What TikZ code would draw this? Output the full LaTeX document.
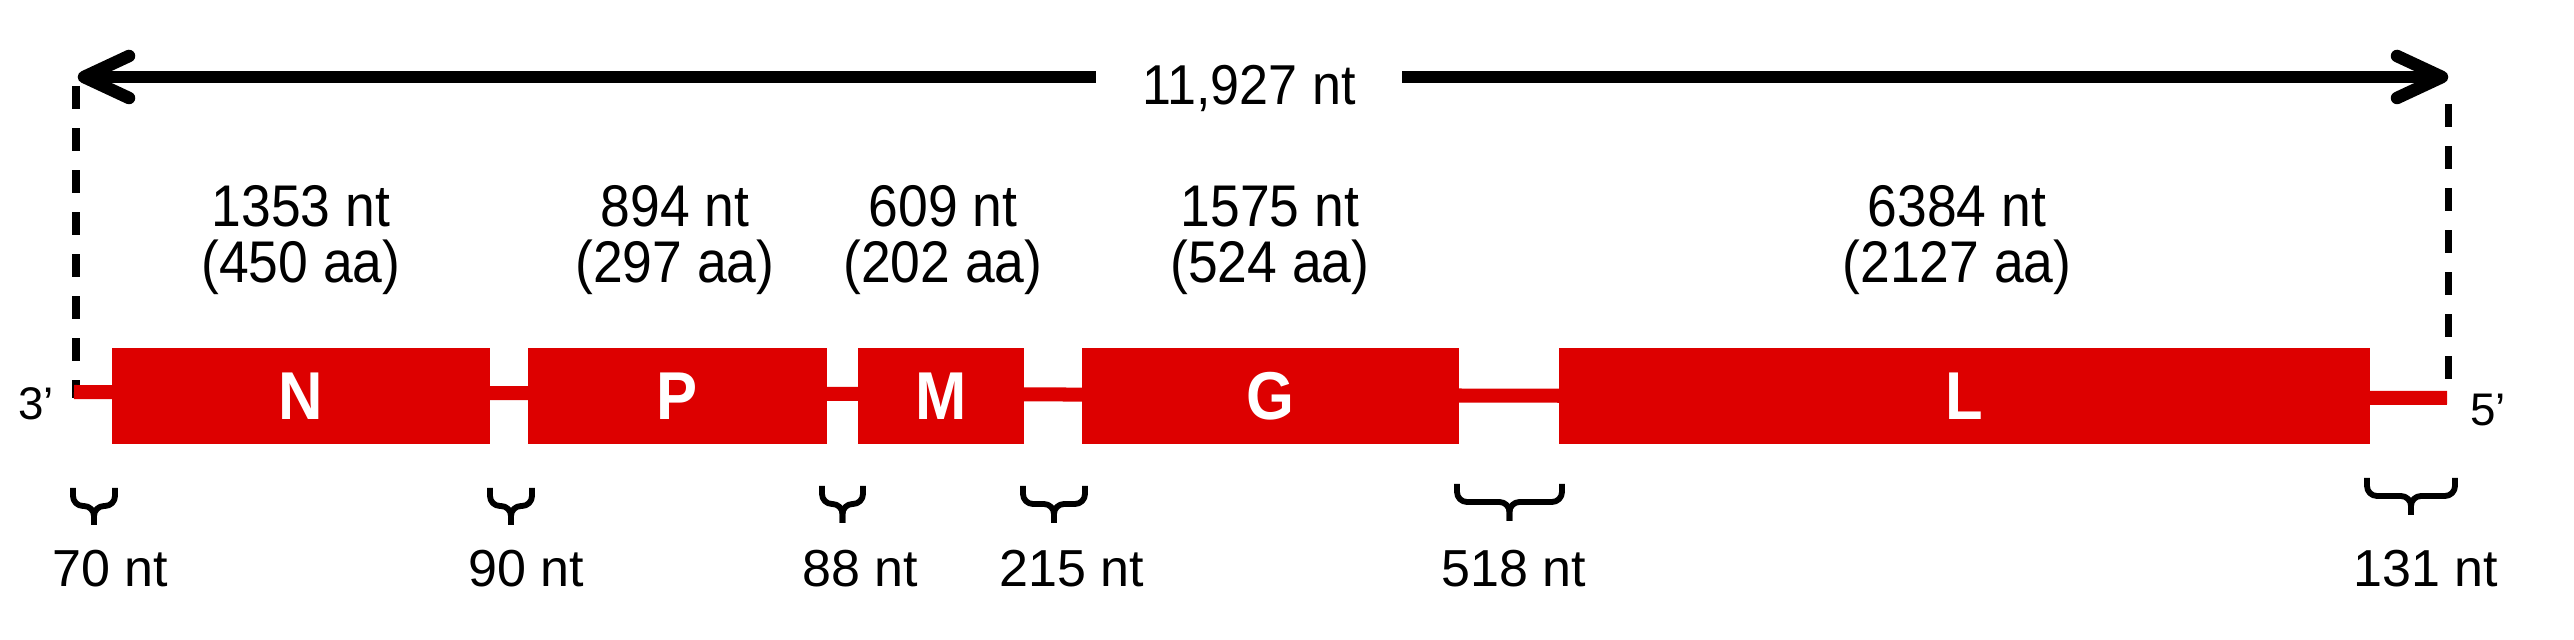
\documentclass[tikz,border=0pt]{standalone}
\usepackage{fontspec}
\setmainfont{Liberation Sans}
\usetikzlibrary{calc}
\definecolor{genered}{RGB}{221,0,0}
\newcommand\tall[2]{\scalebox{1}[#1]{#2}}
\tikzset{
  lab/.style={font=\fontsize{14.8}{16}\selectfont, inner sep=0pt, anchor=base},
  toplab/.style={font=\fontsize{15.2}{15.9}\selectfont, inner sep=0pt, align=center},
  genebox/.style={fill=genered, draw=none, minimum height=0.96cm, inner sep=0pt, text=white, font=\fontsize{17.5}{18}\selectfont\bfseries},
  bb/.style={draw=genered, line width=0.14cm},
  dimline/.style={line width=0.125cm},
  tipline/.style={line width=0.125cm, line cap=round, line join=round},
  guide/.style={line width=0.07cm, dash pattern=on 0.23cm off 0.19cm},
  gbr/.style={line width=0.058cm, line join=round},
  endlab/.style={font=\fontsize{13}{14}\selectfont, inner sep=0pt}
}
\newcommand\gapbrace[3]{%
  \pgfmathsetmacro\gbm{(#1+#2)/2}%
  \pgfmathsetmacro\gbr{min(10,(#2-#1)/4)*0.01}%
  \draw[gbr, rounded corners={\gbr cm}] (#1,#3) -- (#1,#3+18) -- (\gbm,#3+18) -- (\gbm,#3+37);
  \draw[gbr, rounded corners={\gbr cm}] (#2,#3) -- (#2,#3+18) -- (\gbm,#3+18) -- (\gbm,#3+37);
}
\begin{document}
\begin{tikzpicture}[x=0.01cm, y=-0.01cm]
\useasboundingbox (0,0) rectangle (2574,640);

% total length arrow
\coordinate (Lt) at (84,77);
\coordinate (Rt) at (2442,77);
\node[lab, inner xsep=0.46cm] (tot) at (1249,105) {\tall{1.08}{11,927 nt}};
\draw[dimline] (Lt) -- (Lt -| tot.west);
\draw[dimline] (tot.east |- Rt) -- (Rt);
\draw[tipline] ($(Lt)+(45,-21)$) -- (Lt) -- ($(Lt)+(45,21)$);
\draw[tipline] ($(Rt)+(-45,-21)$) -- (Rt) -- ($(Rt)+(-45,21)$);

% guide lines
\coordinate (gl1) at (76,86);
\coordinate (gl2) at (76,398);
\coordinate (gr1) at (2448,104);
\coordinate (gr2) at (2448,388);
\draw[guide] (gl1) -- (gl2);
\draw[guide] (gr1) -- (gr2);

% backbone
\coordinate (bbL) at (74,392);
\coordinate (bbR) at (2447,398);
\draw[bb] (bbL) -- (bbR);

% genes
\node[genebox, minimum width=3.78cm] (N) at (301,396) {\tall{1.1}{N}};
\node[genebox, minimum width=2.99cm] (P) at (677.5,396) {\tall{1.1}{P}};
\node[genebox, minimum width=1.66cm] (M) at (941,396) {\tall{1.1}{M}};
\node[genebox, minimum width=3.77cm] (G) at (1270.5,396) {\tall{1.1}{G}};
\node[genebox, minimum width=8.11cm] (L) at (1964.5,396) {\tall{1.1}{L}};

\node[endlab] (e3) at (36,404) {3'};
\node[endlab] (e5) at (2488,410) {5'};

% gene sizes
\node[toplab] (s1) at (301,240) {\tall{1.1}{1353 nt}\\\tall{1.1}{(450 aa)}};
\node[toplab] (s2) at (675,240) {\tall{1.1}{894 nt}\\\tall{1.1}{(297 aa)}};
\node[toplab] (s3) at (943,240) {\tall{1.1}{609 nt}\\\tall{1.1}{(202 aa)}};
\node[toplab] (s4) at (1270,240) {\tall{1.1}{1575 nt}\\\tall{1.1}{(524 aa)}};
\node[toplab] (s5) at (1957,240) {\tall{1.1}{6384 nt}\\\tall{1.1}{(2127 aa)}};

% intergenic braces
\gapbrace{73}{115}{488}
\gapbrace{490}{532}{488}
\gapbrace{822}{863}{486}
\gapbrace{1023}{1085}{486}
\gapbrace{1457}{1562}{484}
\gapbrace{2367}{2455}{478}

\node[lab] (g1) at (110,587) {70 nt};
\node[lab] (g2) at (526,587) {90 nt};
\node[lab] (g3) at (860,587) {88 nt};
\node[lab] (g4) at (1072,587) {215 nt};
\node[lab] (g5) at (1514,587) {518 nt};
\node[lab] (g6) at (2426,587) {131 nt};
\end{tikzpicture}
\end{document}
